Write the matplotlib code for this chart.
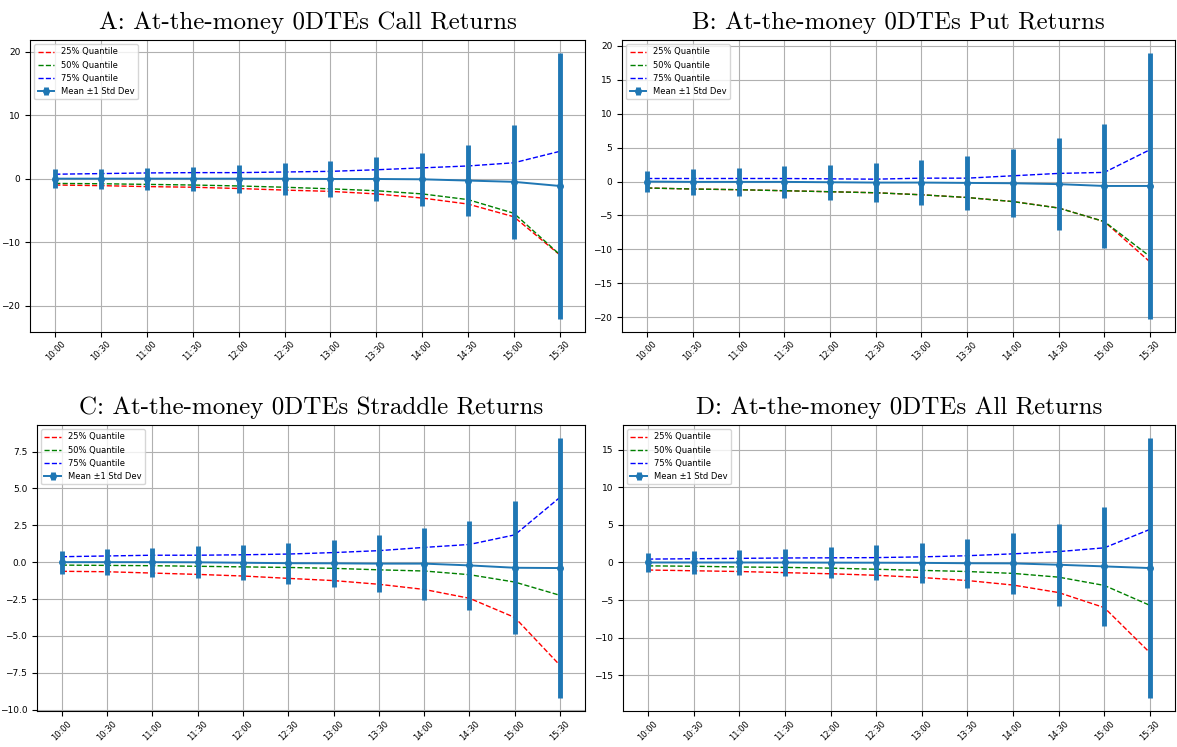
import matplotlib
matplotlib.use('Agg')
import matplotlib.pyplot as plt
from matplotlib.ticker import MultipleLocator

# Horas de cierre intradía
times = ['10:00', '10:30', '11:00', '11:30', '12:00', '12:30',
         '13:00', '13:30', '14:00', '14:30', '15:00', '15:30']

# Calls
call_mean = [0.0, 0.0, 0.0, 0.0, 0.0, -0.02, -0.05, -0.05, -0.1, -0.3, -0.5, -1.15]
call_std = [1.45, 1.6, 1.75, 1.9, 2.2, 2.5, 2.8, 3.5, 4.15, 5.65, 9.0, 20.9]
call_q25 = [-1.0, -1.1, -1.25, -1.35, -1.55, -1.8, -2.0, -2.4, -3.05, -4.0, -6.0, -12.0]
call_q50 = [-0.75, -0.8, -0.9, -1.0, -1.15, -1.35, -1.6, -1.9, -2.4, -3.3, -5.45, -11.95]
call_q75 = [0.7, 0.8, 0.9, 0.95, 0.95, 1.05, 1.15, 1.4, 1.7, 2.0, 2.5, 4.3]

# Puts
put_mean = [0.0, -0.05, -0.05, -0.05, -0.1, -0.15, -0.15, -0.2, -0.25, -0.38, -0.65, -0.65]
put_std = [1.6, 1.9, 2.1, 2.3, 2.55, 2.9, 3.3, 3.95, 5.0, 6.8, 9.2, 19.55]
put_q25 = [-0.95, -1.1, -1.2, -1.35, -1.5, -1.65, -1.95, -2.35, -2.95, -3.9, -5.9, -11.85]
put_q50 = [-0.95, -1.1, -1.2, -1.35, -1.5, -1.65, -1.95, -2.35, -2.95, -3.9, -5.9, -11.05]
put_q75 = [0.45, 0.45, 0.45, 0.45, 0.4, 0.35, 0.5, 0.5, 0.85, 1.2, 1.35, 4.7]

# Straddles
strad_mean = [0.0, 0.0, 0.0, -0.01, -0.04, -0.07, -0.08, -0.1, -0.1, -0.22, -0.38, -0.4]
strad_std = [0.78, 0.89, 0.98, 1.08, 1.2, 1.39, 1.58, 1.91, 2.44, 3.04, 4.5, 8.82]
strad_q25 = [-0.62, -0.65, -0.74, -0.83, -0.94, -1.1, -1.25, -1.5, -1.85, -2.45, -3.75, -7.0]
strad_q50 = [-0.2, -0.22, -0.24, -0.28, -0.32, -0.36, -0.42, -0.52, -0.6, -0.85, -1.35, -2.25]
strad_q75 = [0.37, 0.42, 0.47, 0.47, 0.5, 0.55, 0.65, 0.78, 1.0, 1.2, 1.85, 4.4]

# Todas
all_mean = [0.0, 0.0, 0.0, 0.0, -0.02, -0.03, -0.05, -0.1, -0.12, -0.3, -0.52, -0.74]
all_std = [1.3, 1.5, 1.66, 1.83, 2.07, 2.33, 2.67, 3.23, 4.05, 5.42, 7.87, 17.3]
all_q25 = [-1.0, -1.1, -1.2, -1.35, -1.5, -1.7, -2.0, -2.4, -3.0, -4.0, -6.0, -12.0]
all_q50 = [-0.45, -0.5, -0.6, -0.65, -0.75, -0.9, -1.05, -1.2, -1.45, -1.95, -3.05, -5.7]
all_q75 = [0.45, 0.5, 0.55, 0.6, 0.62, 0.65, 0.75, 0.9, 1.15, 1.45, 1.95, 4.4]

titles = ['A: At-the-money 0DTEs Call Returns',
          'B: At-the-money 0DTEs Put Returns',
          'C: At-the-money 0DTEs Straddle Returns',
          'D: At-the-money 0DTEs All Returns']

fig = plt.figure(figsize=(11.77, 7.47), dpi=100)

posiciones = [
    [0.0255, 0.5556, 0.4715, 0.3909],
    [0.5285, 0.5556, 0.4700, 0.3909],
    [0.0314, 0.0480, 0.4656, 0.3831],
    [0.5293, 0.0480, 0.4690, 0.3831],
]
pasos = [10, 5, 2.5, 5]

series = [
    (call_mean, call_std, call_q25, call_q50, call_q75),
    (put_mean, put_std, put_q25, put_q50, put_q75),
    (strad_mean, strad_std, strad_q25, strad_q50, strad_q75),
    (all_mean, all_std, all_q25, all_q50, all_q75),
]

x = list(range(len(times)))

for k in range(4):
    mean, std, q25, q50, q75 = series[k]
    ax = fig.add_axes(posiciones[k])

    ax.plot(x, q25, 'r--', lw=1, label='25% Quantile')
    ax.plot(x, q50, 'g--', lw=1, label='50% Quantile')
    ax.plot(x, q75, 'b--', lw=1, label='75% Quantile')
    ax.errorbar(x, mean, yerr=std, fmt='-o', color='tab:blue',
                elinewidth=3.5, lw=1.4, markersize=4,
                label='Mean ±1 Std Dev')

    ax.set_xticks(x)
    ax.set_xticklabels(times, rotation=45, fontsize=6)
    ax.tick_params(axis='x', pad=2)
    ax.yaxis.set_major_locator(MultipleLocator(pasos[k]))
    ax.tick_params(axis='y', labelsize=6.5)
    ax.grid(True)
    ax.legend(loc='upper left', fontsize=6)
    ax.set_title(titles[k], fontfamily='cmr10', fontsize=18, pad=8)

plt.savefig('out.png', dpi=100)
